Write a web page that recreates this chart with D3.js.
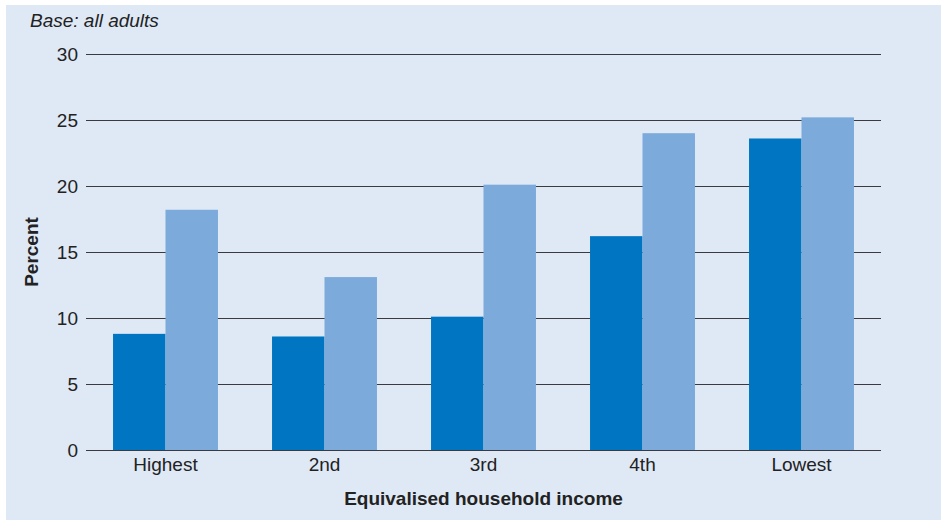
<!DOCTYPE html>
<html>
<head>
<meta charset="utf-8">
<script src="https://cdn.jsdelivr.net/npm/d3@7"></script>
<style>
  body { margin: 0; background: #fff; }
  svg { display: block; font-family: "Liberation Sans", Arial, sans-serif; }
</style>
</head>
<body>
<div id="chart-container"></div>
<script>
// data
const categories = ["Highest", "2nd", "3rd", "4th", "Lowest"];
const seriesDark = [8.8, 8.6, 10.1, 16.2, 23.6];
const seriesLight = [18.2, 13.1, 20.1, 24.0, 25.2];
const yTicks = [0, 5, 10, 15, 20, 25, 30];

const width = 945, height = 524;
const marginLeft = 86, marginRight = 64, marginTop = 54, marginBottom = 74;
const fontSize = 19;

const svg = d3.select("#chart-container")
  .append("svg")
  .attr("width", width)
  .attr("height", height);

// panel background
svg.append("rect")
  .attr("x", 6).attr("y", 5)
  .attr("width", width - 10).attr("height", height - 9)
  .attr("fill", "#dfe9f6");

const x = d3.scaleBand()
  .domain(categories)
  .range([marginLeft, width - marginRight])
  .paddingInner(0.34)
  .paddingOuter(0.17);

const xSub = d3.scaleBand()
  .domain(["dark", "light"])
  .range([0, x.bandwidth()]);

const y = d3.scaleLinear()
  .domain([0, 30])
  .range([height - marginBottom, marginTop]);

// gridlines + y labels
const yAxis = svg.append("g")
  .attr("transform", `translate(${marginLeft},0)`)
  .call(d3.axisLeft(y).tickValues(yTicks)
    .tickSize(-(width - marginLeft - marginRight))
    .tickPadding(8));
yAxis.select(".domain").remove();
yAxis.selectAll(".tick line").attr("stroke", "#3a3a40").attr("stroke-width", 1.2);
yAxis.selectAll(".tick text")
  .attr("fill", "#222").style("font-size", fontSize + "px");

// bars
const groups = svg.append("g")
  .selectAll("g")
  .data(categories)
  .join("g")
  .attr("transform", (d) => `translate(${x(d)},0)`);

groups.append("rect")
  .attr("x", xSub("dark"))
  .attr("width", xSub.bandwidth())
  .attr("y", (d, i) => y(seriesDark[i]))
  .attr("height", (d, i) => y(0) - y(seriesDark[i]))
  .attr("fill", "#0075c1");

groups.append("rect")
  .attr("x", xSub("light"))
  .attr("width", xSub.bandwidth())
  .attr("y", (d, i) => y(seriesLight[i]))
  .attr("height", (d, i) => y(0) - y(seriesLight[i]))
  .attr("fill", "#7caadb");

// x axis labels
const xAxis = svg.append("g")
  .attr("transform", `translate(0,${height - marginBottom})`)
  .call(d3.axisBottom(x).tickSize(0).tickPadding(8));
xAxis.select(".domain").remove();
xAxis.selectAll(".tick text")
  .attr("fill", "#222").style("font-size", fontSize + "px");

// titles
svg.append("text")
  .attr("x", 30).attr("y", 27)
  .attr("font-style", "italic")
  .attr("font-size", fontSize)
  .attr("fill", "#222")
  .text("Base: all adults");

svg.append("text")
  .attr("transform", `translate(38,${(marginTop + height - marginBottom) / 2}) rotate(-90)`)
  .attr("text-anchor", "middle")
  .attr("font-weight", "bold")
  .attr("font-size", fontSize)
  .attr("fill", "#222")
  .text("Percent");

svg.append("text")
  .attr("x", (marginLeft + width - marginRight) / 2)
  .attr("y", 505)
  .attr("text-anchor", "middle")
  .attr("font-weight", "bold")
  .attr("font-size", fontSize)
  .attr("fill", "#222")
  .text("Equivalised household income");
</script>
</body>
</html>
